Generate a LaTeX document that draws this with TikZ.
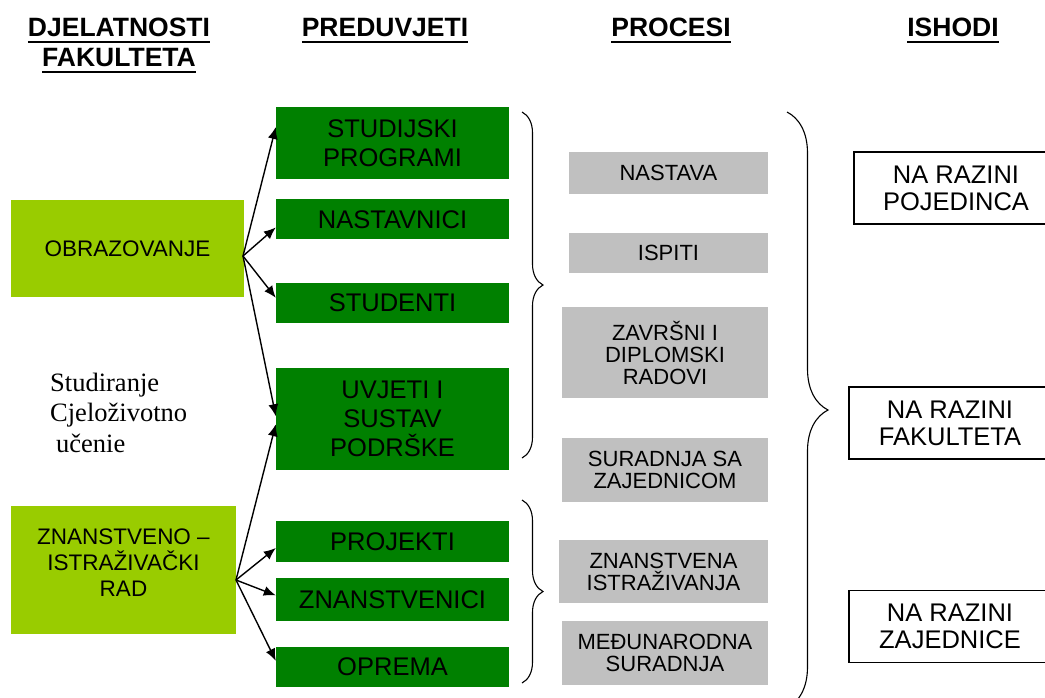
\documentclass[tikz,border=0pt]{standalone}
\usepackage{fontspec}
\setmainfont{Liberation Sans}
\newfontfamily\notefont{Liberation Serif}
\usepackage{tikz}
\usetikzlibrary{
  	positioning,
  	arrows.meta,
  	calc,
		decorations.pathreplacing
  }
\definecolor{actgreen}{HTML}{99CC00}
\definecolor{pregreen}{HTML}{008000}
\definecolor{procgray}{HTML}{C0C0C0}
% underlined heading line
\newcommand{\hdline}[1]{\setbox0\hbox{#1}\rlap{\usebox0}\rule[-6pt]{\wd0}{2.2pt}}
\tikzset{
  hdr/.style={font=\bfseries\fontsize{26.5}{30}\selectfont, align=center, inner sep=0},
  actbox/.style={fill=actgreen, inner sep=0, align=center, font=\fontsize{22.5}{26}\selectfont},
  prebox/.style={fill=pregreen, inner sep=0, align=center, minimum width=233pt, font=\fontsize{25.5}{29}\selectfont},
  procbox/.style={fill=procgray, inner sep=0, align=center, font=\fontsize{22}{22}\selectfont},
  outbox/.style={draw, line width=1.2pt, inner sep=0, align=center, minimum height=72pt, font=\fontsize{25.5}{27}\selectfont},
  fan/.style={-{Latex[length=12pt,width=10pt]}, line width=1.4pt},
  curly/.style={decorate, decoration={brace, amplitude=#1}, line width=1.1pt}
}

\begin{document}
\begin{tikzpicture}[x=1pt, y=-1pt]
  \useasboundingbox (0,0) rectangle (1045,697);
  \clip (0,0) rectangle (1045,697);
  % headings
  \node[hdr] (hdjel) at (119,45.5) {\hdline{DJELATNOSTI}\\\hdline{FAKULTETA}};
  \node[hdr] (hpre) at (385,30.6) {\hdline{PREDUVJETI}};
  \node[hdr] (hpro) at (671,30.6) {\hdline{PROCESI}};
  \node[hdr] (hish) at (953,30.6) {\hdline{ISHODI}};
%
  \node[actbox, minimum width=233pt, minimum height=97pt] (obr) at (127.5,248.5) {OBRAZOVANJE};
  \node[actbox, minimum width=225pt, minimum height=128pt] (zir) at (123.5,570) {ZNANSTVENO –\\ISTRAŽIVAČKI\\RAD\\[-12pt]};
  \node[anchor=west, align=left, inner sep=0, font=\notefont\fontsize{26.5}{30.5}\selectfont] (stud) at (50,412.5)
    {Studiranje\\Cjeloživotno\\\hspace*{6pt}učenie};
%
  \node[prebox, minimum height=72pt] (gsp) at (392.5,143) {STUDIJSKI\\PROGRAMI};
  \node[prebox, minimum height=40pt, below=20pt of gsp] (gnas) {NASTAVNICI};
  \node[prebox, minimum height=40pt, below=43pt of gnas] (gstu) {STUDENTI};
  \node[prebox, minimum height=102pt, below=45pt of gstu] (guvj) {UVJETI I\\SUSTAV\\PODRŠKE};
  \node[prebox, minimum height=41pt] (gpro) at (392.5,541.5) {PROJEKTI};
  \node[prebox, minimum height=43pt, below=16pt of gpro] (gzna) {ZNANSTVENICI};
  \node[prebox, minimum height=40pt, below=25pt of gzna] (gopr) {OPREMA};
%
  \node[procbox, minimum width=199pt, minimum height=42pt] (pnas) at (668.5,173) {NASTAVA};
  \node[procbox, minimum width=199pt, minimum height=40pt, below=39pt of pnas] (pisp) {ISPITI};
  \node[procbox, minimum width=206pt, minimum height=91pt] (pzav) at (665,352.5) {ZAVRŠNI I\\DIPLOMSKI\\RADOVI};
  \node[procbox, minimum width=206pt, minimum height=64pt] (psur) at (665,470) {SURADNJA SA\\ZAJEDNICOM};
  \node[procbox, minimum width=209pt, minimum height=63pt] (pzis) at (663.5,571.5) {ZNANSTVENA\\ISTRAŽIVANJA};
  \node[procbox, minimum width=206pt, minimum height=64pt] (pmed) at (665,653) {MEĐUNARODNA\\SURADNJA};
%
  \node[outbox, minimum width=204pt] (opoj) at (956,188) {NA RAZINI\\POJEDINCA};
  \node[outbox, minimum width=202pt] (ofak) at (950,423) {NA RAZINI\\FAKULTETA};
  \node[outbox, minimum width=202pt] (ozaj) at (950,626.5) {NA RAZINI\\ZAJEDNICE};
%
  \coordinate (obrout) at (243,256);
  \coordinate (zirout) at (236,580);
  \draw[fan] (obrout) -- ($(gsp.west)+(0,-16)$);
  \draw[fan] (obrout) -- ($(gnas.west)+(0,8)$);
  \draw[fan] (obrout) -- ($(gstu.west)+(0,-5)$);
  \draw[fan] (obrout) -- ($(guvj.west)+(0,-3)$);
  \draw[fan] (zirout) -- ($(guvj.west)+(0,5)$);
  \draw[fan] (zirout) -- ($(gpro.west)+(0,6.5)$);
  \draw[fan] (zirout) -- ($(gzna.west)+(0,-4.5)$);
  \draw[fan] (zirout) -- ($(gopr.west)+(0,-6)$);
%
  \draw[curly=21pt] (522,112) -- (522,458);
  \draw[curly=21pt] (522,500) -- (522,683);
  \draw[curly=41pt] (787,112) -- (787,708);
\end{tikzpicture}
\end{document}
